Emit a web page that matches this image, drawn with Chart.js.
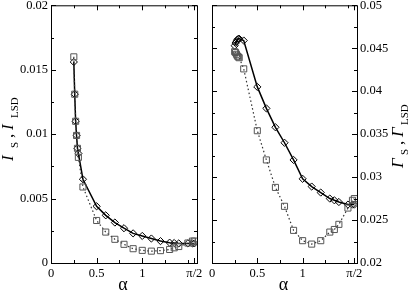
<!DOCTYPE html>
<html>
<head>
<meta charset="utf-8">
<script src="https://cdn.jsdelivr.net/npm/chart.js@4"></script>
<style>
  html, body { margin: 0; padding: 0; background: #fff; }
  #wrap { position: relative; width: 409px; height: 294px; }
  canvas { position: absolute; left: 0; top: 0; }
</style>
</head>
<body>
<div id="wrap">
  <canvas id="left" width="409" height="294"></canvas>
  <canvas id="right" width="409" height="294"></canvas>
</div>
<script>
/* data */
const alpha = [0.25, 0.26, 0.27, 0.28, 0.29, 0.30, 0.35, 0.5, 0.6, 0.7, 0.8, 0.9, 1.0, 1.1, 1.2, 1.3, 1.35, 1.4, 1.5, 1.55, 1.5708];

const leftDiamonds = [0.0156, 0.0131, 0.0110, 0.0099, 0.0089, 0.0085, 0.0065, 0.0044, 0.0037, 0.00314, 0.0027, 0.0023, 0.0021, 0.0019, 0.0017, 0.00158, 0.00155, 0.00152, 0.00152, 0.00152, 0.00152];
const leftSquares = [0.0160, 0.0131, 0.0110, 0.0099, 0.0089, 0.0082, 0.0059, 0.0033, 0.0024, 0.00184, 0.00145, 0.00111, 0.00098, 0.00092, 0.00096, 0.00105, 0.00118, 0.00128, 0.00155, 0.0017, 0.0017];

const rightDiamonds = [0.0453, 0.0456, 0.0458, 0.0460, 0.0461, 0.0461, 0.0459, 0.0405, 0.0380, 0.0358, 0.0340, 0.0320, 0.0298, 0.0289, 0.0282, 0.0275, 0.0273, 0.0271, 0.0268, 0.0268, 0.0268];
const rightSquares = [0.0446, 0.0445, 0.0443, 0.0441, 0.0440, 0.0439, 0.0426, 0.0354, 0.0320, 0.0288, 0.0266, 0.0238, 0.0226, 0.0222, 0.0226, 0.0236, 0.0239, 0.0245, 0.0264, 0.0273, 0.0275];

const xTicks = [0, 0.5, 1, Math.PI / 2];
const xTickLabels = ['0', '0.5', '1', 'π/2'];
const xMinor = [0.25, 0.75, 1.25, 1.5];

const leftYTicks = [0, 0.005, 0.01, 0.015, 0.02];
const leftYLabels = ['0', '0.005', '0.01', '0.015', '0.02'];
const leftYMinor = [0.0025, 0.0075, 0.0125, 0.0175];

const rightYTicks = [0.02, 0.025, 0.03, 0.035, 0.04, 0.045, 0.05];
const rightYLabels = ['0.02', '0.025', '0.03', '0.035', '0.04', '0.045', '0.05'];
const rightYMinor = [0.0225, 0.0275, 0.0325, 0.0375, 0.0425, 0.0475];

/* helpers */
const FONT = 'Liberation Serif';
const pts = vals => alpha.map((a, i) => ({ x: a, y: vals[i] }));

// frame with inward ticks on all four sides
const framePlugin = {
    id: 'frame',
    afterDatasetsDraw(chart, args, opts) {
        const { ctx, chartArea: a, scales } = chart;
        const x = scales.x, y = scales.y;
        ctx.save();
        ctx.strokeStyle = '#000';
        ctx.lineWidth = 1;
        ctx.strokeRect(a.left + 0.5, a.top + 0.5, a.right - a.left, a.bottom - a.top);
        ctx.beginPath();
        const xt = (v, len) => {
            const px = Math.round(x.getPixelForValue(v)) + 0.5;
            ctx.moveTo(px, a.bottom); ctx.lineTo(px, a.bottom - len);
            ctx.moveTo(px, a.top); ctx.lineTo(px, a.top + len);
        };
        const yt = (v, len) => {
            const py = Math.round(y.getPixelForValue(v)) + 0.5;
            ctx.moveTo(a.left, py); ctx.lineTo(a.left + len, py);
            ctx.moveTo(a.right, py); ctx.lineTo(a.right - len, py);
        };
        xTicks.forEach(v => xt(v, 5));
        xMinor.forEach(v => xt(v, 3));
        opts.yMajor.forEach(v => yt(v, 5));
        opts.yMinor.forEach(v => yt(v, 3));
        ctx.stroke();
        ctx.restore();
    }
};

// rotated axis title with subscripts, and the alpha label
const titlePlugin = {
    id: 'titles',
    afterDraw(chart, args, opts) {
        const { ctx, chartArea: a } = chart;
        ctx.save();
        ctx.fillStyle = '#000';
        ctx.textBaseline = 'alphabetic';
        // alpha below the x axis
        ctx.font = '18px "' + FONT + '"';
        ctx.textAlign = 'center';
        ctx.fillText('α', (a.left + a.right) / 2 - 1, 290);
        // y title
        ctx.textAlign = 'left';
        ctx.translate(opts.baseX, opts.startY);
        ctx.rotate(-Math.PI / 2);
        const main = 'italic 17px "' + FONT + '"';
        const sub = '11px "' + FONT + '"';
        ctx.font = main; ctx.fillText(opts.sym, 0, 0);
        ctx.font = sub; ctx.fillText('S', 13, 5);
        ctx.font = '17px "' + FONT + '"'; ctx.fillText(',', 23, 0);
        ctx.font = main; ctx.fillText(opts.sym, 31, 0);
        ctx.font = sub; ctx.fillText('LSD', 43, 5);
        ctx.restore();
    }
};

function makeChart(id, side, dia, sq, yMin, yMax, yTicks, yLabels, yMinor) {
    const isLeft = side === 'left';
    return new Chart(document.getElementById(id), {
        type: 'line',
        data: {
            datasets: [{
                data: pts(sq),
                borderColor: '#333',
                borderWidth: 1.2,
                borderDash: [1.5, 2.5],
                pointStyle: 'rect',
                pointRadius: 4.3,
                pointBorderColor: '#555',
                pointBorderWidth: 1,
                pointBackgroundColor: 'rgba(0,0,0,0)',
                tension: 0
            }, {
                data: pts(dia),
                borderColor: '#000',
                borderWidth: 1.5,
                pointStyle: 'rectRot',
                pointRadius: 3.6,
                pointBorderColor: '#000',
                pointBorderWidth: 1,
                pointBackgroundColor: 'rgba(0,0,0,0)',
                tension: 0
            }]
        },
        options: {
            responsive: false,
            animation: false,
            events: [],
            layout: {
                padding: isLeft
                    ? { left: 0, top: 5, right: 212, bottom: 0 }
                    : { left: 212, top: 5, right: 0, bottom: 0 }
            },
            plugins: {
                legend: { display: false },
                tooltip: { enabled: false },
                frame: { yMajor: yTicks, yMinor: yMinor },
                titles: isLeft
                    ? { sym: 'I', baseX: 13, startY: 161 }
                    : { sym: 'Γ', baseX: 403, startY: 168 }
            },
            scales: {
                x: {
                    type: 'linear',
                    min: 0,
                    max: 1.6,
                    grid: { display: false, drawTicks: false },
                    border: { display: false },
                    ticks: {
                        color: '#000',
                        font: { family: FONT, size: 12.5 },
                        padding: 3,
                        maxRotation: 0,
                        autoSkip: false,
                        callback: (v, i) => xTickLabels[i]
                    },
                    afterBuildTicks: s => { s.ticks = xTicks.map(v => ({ value: v })); },
                    afterFit: s => {
                        s.height = 31;
                        s.paddingLeft = 0; s.paddingRight = 0;
                    }
                },
                y: {
                    type: 'linear',
                    position: side,
                    min: yMin,
                    max: yMax,
                    grid: { display: false, drawTicks: false },
                    border: { display: false },
                    ticks: {
                        color: '#000',
                        font: { family: FONT, size: 12.5 },
                        padding: 3,
                        autoSkip: false,
                        callback: (v, i) => yLabels[i]
                    },
                    afterBuildTicks: s => { s.ticks = yTicks.map(v => ({ value: v })); },
                    afterFit: s => {
                        s.width = isLeft ? 51 : 52;
                        s.paddingTop = 0; s.paddingBottom = 0;
                    }
                }
            }
        },
        plugins: [framePlugin, titlePlugin]
    });
}

makeChart('left', 'left', leftDiamonds, leftSquares, 0, 0.02, leftYTicks, leftYLabels, leftYMinor);
makeChart('right', 'right', rightDiamonds, rightSquares, 0.02, 0.05, rightYTicks, rightYLabels, rightYMinor);
</script>
</body>
</html>
